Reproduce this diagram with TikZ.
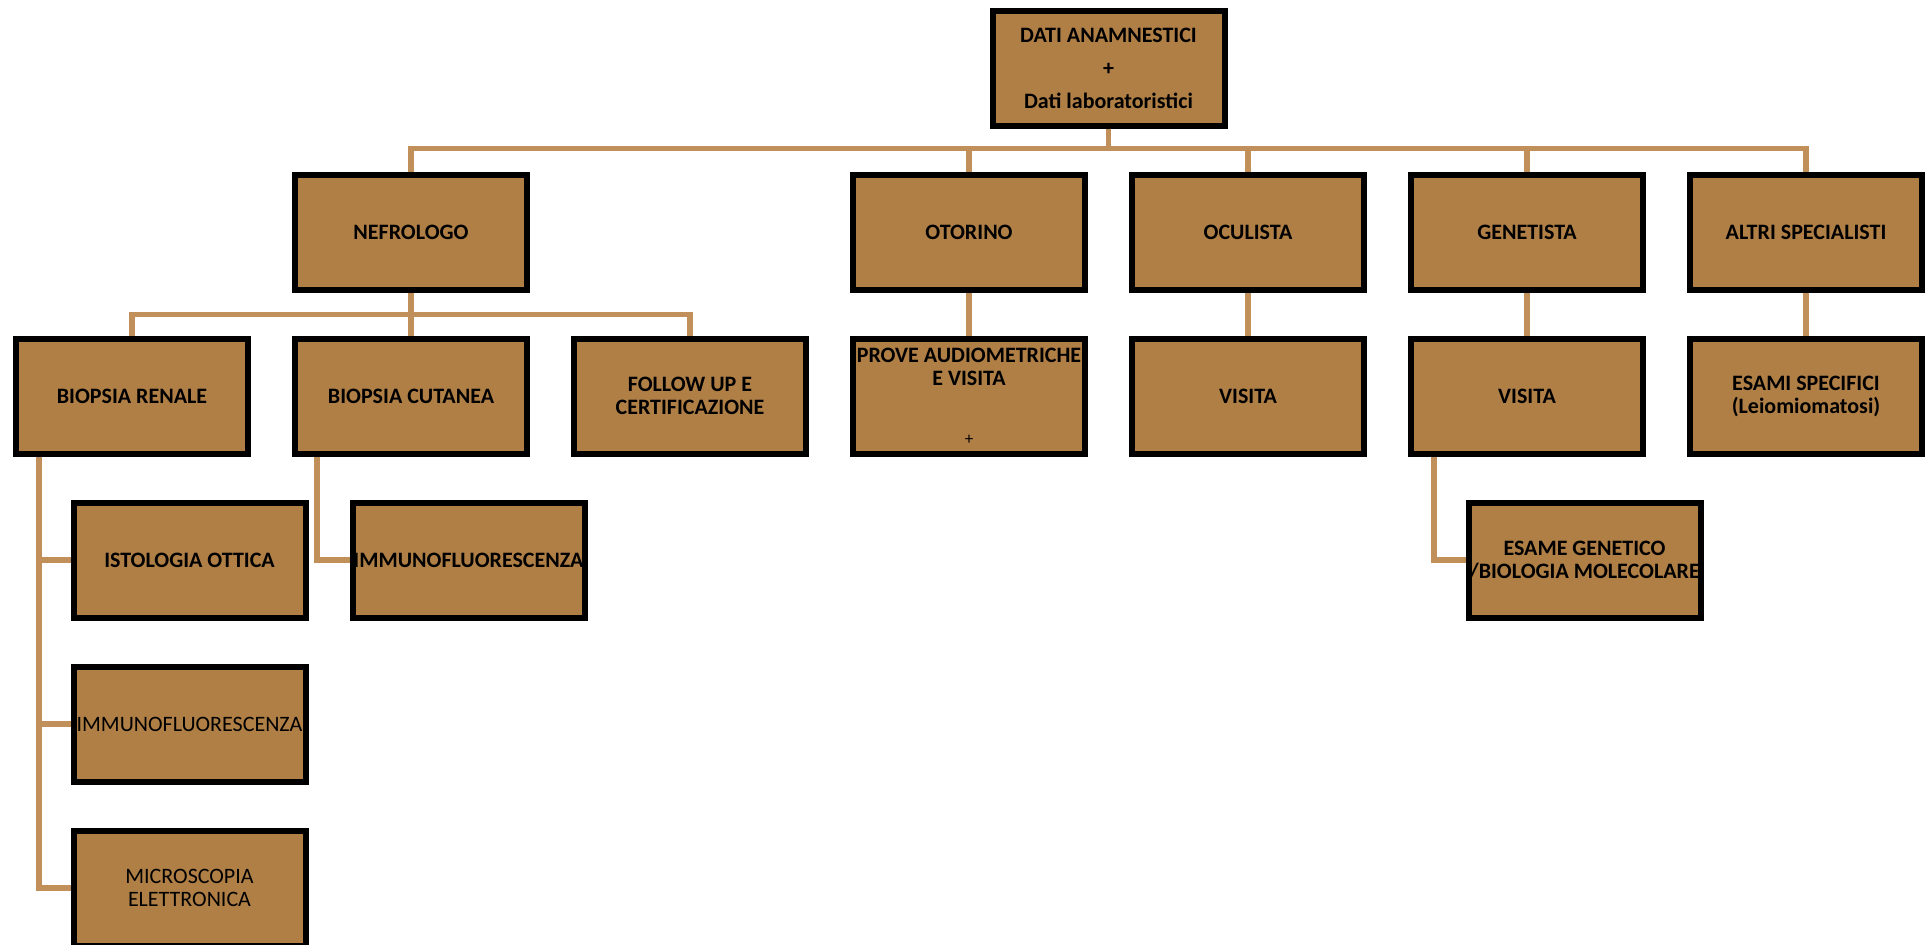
\documentclass[tikz,border=0pt]{standalone}
\usepackage{fontspec}
\setmainfont{Carlito}
\usetikzlibrary{positioning,calc}
\definecolor{boxfill}{RGB}{176,127,70}
\definecolor{linktan}{RGB}{192,143,90}

\begin{document}
\begin{tikzpicture}[node distance=43pt and 41pt,
    box/.style={draw=black,line width=6pt,fill=boxfill,minimum width=232pt,minimum height=115pt,inner sep=0pt,align=center,font=\fontsize{22}{23}\selectfont\bfseries},
    lightbox/.style={box,font=\fontsize{22}{23}\selectfont},
    link/.style={draw=linktan,line width=5.5pt}]
      \useasboundingbox (0,0) rectangle (1925pt,-945pt);
      \node[box] (bren) at (132pt,-396pt) {BIOPSIA RENALE};
      \node[box,right=of bren] (bcut) {BIOPSIA CUTANEA};
      \node[box,right=of bcut] (fup) {FOLLOW UP E\\CERTIFICAZIONE};
      \node[box,right=of fup] (pro) {PROVE AUDIOMETRICHE\\E VISITA\\[36pt]{\fontsize{17}{18}\selectfont\mdseries +}};
      \node[box,right=of pro] (vocu) {VISITA};
      \node[box,right=of vocu] (vgen) {VISITA};
      \node[box,right=of vgen] (esa) {ESAMI SPECIFICI\\(Leiomiomatosi)};
      \node[box,above=of bcut] (nef) {NEFROLOGO};
      \node[box,above=of pro] (oto) {OTORINO};
      \node[box,above=of vocu] (ocu) {OCULISTA};
      \node[box,above=of vgen] (gen) {GENETISTA};
      \node[box,above=of esa] (alt) {ALTRI SPECIALISTI};
      \node[box,above=of $(oto.north)!0.5!(ocu.north)$] (dati) {DATI ANAMNESTICI\\[10pt]+\\[10pt]Dati laboratoristici};
      \node[box,below=of bren,xshift=57.5pt] (isto) {ISTOLOGIA OTTICA};
      \node[lightbox,below=of isto] (imm) {IMMUNOFLUORESCENZA};
      \node[lightbox,below=of imm] (micro) {MICROSCOPIA\\ELETTRONICA};
      \node[box,below=of bcut,xshift=57.5pt] (immc) {IMMUNOFLUORESCENZA};
      \node[box,below=of vgen,xshift=57.5pt] (egen) {ESAME GENETICO\\/BIOLOGIA MOLECOLARE};
      \draw[link] (dati.south) -- ++(0,-20pt) -| (nef.north);
      \draw[link] (dati.south) -- ++(0,-20pt) -| (oto.north);
      \draw[link] (dati.south) -- ++(0,-20pt) -| (ocu.north);
      \draw[link] (dati.south) -- ++(0,-20pt) -| (gen.north);
      \draw[link] (dati.south) -- ++(0,-20pt) -| (alt.north);
      \draw[link] (nef.south) -- ++(0,-22pt) -| (bren.north);
      \draw[link] (nef.south) -- ++(0,-22pt) -| (bcut.north);
      \draw[link] (nef.south) -- ++(0,-22pt) -| (fup.north);
      \draw[link] (oto.south) -- (pro.north);
      \draw[link] (ocu.south) -- (vocu.north);
      \draw[link] (gen.south) -- (vgen.north);
      \draw[link] (alt.south) -- (esa.north);
      \draw[link] ([xshift=26pt]bren.south west) |- (isto.west);
      \draw[link] ([xshift=26pt]bren.south west) |- (imm.west);
      \draw[link] ([xshift=26pt]bren.south west) |- (micro.west);
      \draw[link] ([xshift=25pt]bcut.south west) |- (immc.west);
      \draw[link] ([xshift=26pt]vgen.south west) |- (egen.west);
    \end{tikzpicture}
\end{document}
